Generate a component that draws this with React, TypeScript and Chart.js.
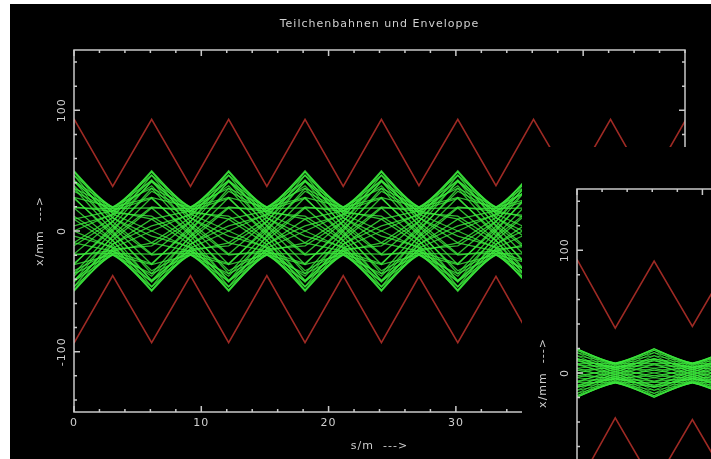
import React, { useEffect, useRef } from 'react';
import { Chart, registerables } from 'chart.js';

Chart.register(...registerables);

// ---------- data ----------
const titleText = 'Teilchenbahnen und Enveloppe';
const xAxisTitle = 's/m  --->';
const yAxisTitle = 'x/mm  --->';

const xMin = 0;
const xMax = 48;
const yMin = -150;
const yMax = 150;

const xTickValues = [0, 2, 4, 6, 8, 10, 12, 14, 16, 18, 20, 22, 24, 26, 28, 30, 32, 34, 36, 38, 40, 42, 44, 46, 48];
const xMajorValues = [0, 10, 20, 30, 40];
const xLabelValues = [0, 10, 20, 30, 40];
const xLabels = ['0', '10', '20', '30', '40'];

const yTickValues = [-140, -120, -100, -80, -60, -40, -20, 0, 20, 40, 60, 80, 100, 120, 140];
const yMajorValues = [-100, 0, 100];
const yLabelValues = [-100, 0, 100];
const yLabels = ['-100', '0', '100'];

// lens positions (kinks of envelope and trajectories), main plot
const lensS = [0, 3.04, 6.1, 9.15, 12.15, 15.15, 18.15, 21.15, 24.15, 27.1, 30.15, 33.15, 36.1, 39.15, 42.15, 45.1, 48.1];
const envUpper = [93, 37, 92.5, 37, 92.5, 37, 92.5, 37, 92.5, 37.5, 92.5, 37.5, 92.5, 37.5, 92.5, 37.5, 93];
const envLower = [-93, -37, -92.5, -37, -92.5, -37, -92.5, -37, -92.5, -37.5, -92.5, -37.5, -92.5, -37.5, -92.5, -37.5, -93];

// particle trajectories x/mm at the lens positions, main plot (outer particles)
const particleX: number[][] = [
  [50, 14.1, 0, -14.1, -50, -14.1, 0, 14.1, 50, 14.1, 0, -14.1, -50, -14.1, 0, 14.1, 50],
  [49, 11.1, -9.8, -16.6, -49, -11.1, 9.8, 16.6, 49, 11.1, -9.8, -16.6, -49, -11.1, 9.8, 16.6, 49],
  [46.2, 7.7, -19.1, -18.5, -46.2, -7.7, 19.1, 18.5, 46.2, 7.7, -19.1, -18.5, -46.2, -7.7, 19.1, 18.5, 46.2],
  [41.6, 3.9, -27.8, -19.6, -41.6, -3.9, 27.8, 19.6, 41.6, 3.9, -27.8, -19.6, -41.6, -3.9, 27.8, 19.6, 41.6],
  [35.4, 0, -35.4, -20, -35.4, 0, 35.4, 20, 35.4, 0, -35.4, -20, -35.4, 0, 35.4, 20, 35.4],
  [27.8, -3.9, -41.6, -19.6, -27.8, 3.9, 41.6, 19.6, 27.8, -3.9, -41.6, -19.6, -27.8, 3.9, 41.6, 19.6, 27.8],
  [19.1, -7.7, -46.2, -18.5, -19.1, 7.7, 46.2, 18.5, 19.1, -7.7, -46.2, -18.5, -19.1, 7.7, 46.2, 18.5, 19.1],
  [9.8, -11.1, -49, -16.6, -9.8, 11.1, 49, 16.6, 9.8, -11.1, -49, -16.6, -9.8, 11.1, 49, 16.6, 9.8],
  [0, -14.1, -50, -14.1, 0, 14.1, 50, 14.1, 0, -14.1, -50, -14.1, 0, 14.1, 50, 14.1, 0],
  [-9.8, -16.6, -49, -11.1, 9.8, 16.6, 49, 11.1, -9.8, -16.6, -49, -11.1, 9.8, 16.6, 49, 11.1, -9.8],
  [-19.1, -18.5, -46.2, -7.7, 19.1, 18.5, 46.2, 7.7, -19.1, -18.5, -46.2, -7.7, 19.1, 18.5, 46.2, 7.7, -19.1],
  [-27.8, -19.6, -41.6, -3.9, 27.8, 19.6, 41.6, 3.9, -27.8, -19.6, -41.6, -3.9, 27.8, 19.6, 41.6, 3.9, -27.8],
  [-35.4, -20, -35.4, 0, 35.4, 20, 35.4, 0, -35.4, -20, -35.4, 0, 35.4, 20, 35.4, 0, -35.4],
  [-41.6, -19.6, -27.8, 3.9, 41.6, 19.6, 27.8, -3.9, -41.6, -19.6, -27.8, 3.9, 41.6, 19.6, 27.8, -3.9, -41.6],
  [-46.2, -18.5, -19.1, 7.7, 46.2, 18.5, 19.1, -7.7, -46.2, -18.5, -19.1, 7.7, 46.2, 18.5, 19.1, -7.7, -46.2],
  [-49, -16.6, -9.8, 11.1, 49, 16.6, 9.8, -11.1, -49, -16.6, -9.8, 11.1, 49, 16.6, 9.8, -11.1, -49],
  [-50, -14.1, 0, 14.1, 50, 14.1, 0, -14.1, -50, -14.1, 0, 14.1, 50, 14.1, 0, -14.1, -50],
  [-49, -11.1, 9.8, 16.6, 49, 11.1, -9.8, -16.6, -49, -11.1, 9.8, 16.6, 49, 11.1, -9.8, -16.6, -49],
  [-46.2, -7.7, 19.1, 18.5, 46.2, 7.7, -19.1, -18.5, -46.2, -7.7, 19.1, 18.5, 46.2, 7.7, -19.1, -18.5, -46.2],
  [-41.6, -3.9, 27.8, 19.6, 41.6, 3.9, -27.8, -19.6, -41.6, -3.9, 27.8, 19.6, 41.6, 3.9, -27.8, -19.6, -41.6],
  [-35.4, 0, 35.4, 20, 35.4, 0, -35.4, -20, -35.4, 0, 35.4, 20, 35.4, 0, -35.4, -20, -35.4],
  [-27.8, 3.9, 41.6, 19.6, 27.8, -3.9, -41.6, -19.6, -27.8, 3.9, 41.6, 19.6, 27.8, -3.9, -41.6, -19.6, -27.8],
  [-19.1, 7.7, 46.2, 18.5, 19.1, -7.7, -46.2, -18.5, -19.1, 7.7, 46.2, 18.5, 19.1, -7.7, -46.2, -18.5, -19.1],
  [-9.8, 11.1, 49, 16.6, 9.8, -11.1, -49, -16.6, -9.8, 11.1, 49, 16.6, 9.8, -11.1, -49, -16.6, -9.8],
  [0, 14.1, 50, 14.1, 0, -14.1, -50, -14.1, 0, 14.1, 50, 14.1, 0, -14.1, -50, -14.1, 0],
  [9.8, 16.6, 49, 11.1, -9.8, -16.6, -49, -11.1, 9.8, 16.6, 49, 11.1, -9.8, -16.6, -49, -11.1, 9.8],
  [19.1, 18.5, 46.2, 7.7, -19.1, -18.5, -46.2, -7.7, 19.1, 18.5, 46.2, 7.7, -19.1, -18.5, -46.2, -7.7, 19.1],
  [27.8, 19.6, 41.6, 3.9, -27.8, -19.6, -41.6, -3.9, 27.8, 19.6, 41.6, 3.9, -27.8, -19.6, -41.6, -3.9, 27.8],
  [35.4, 20, 35.4, 0, -35.4, -20, -35.4, 0, 35.4, 20, 35.4, 0, -35.4, -20, -35.4, 0, 35.4],
  [41.6, 19.6, 27.8, -3.9, -41.6, -19.6, -27.8, 3.9, 41.6, 19.6, 27.8, -3.9, -41.6, -19.6, -27.8, 3.9, 41.6],
  [46.2, 18.5, 19.1, -7.7, -46.2, -18.5, -19.1, 7.7, 46.2, 18.5, 19.1, -7.7, -46.2, -18.5, -19.1, 7.7, 46.2],
  [49, 16.6, 9.8, -11.1, -49, -16.6, -9.8, 11.1, 49, 16.6, 9.8, -11.1, -49, -16.6, -9.8, 11.1, 49],
];

// inner particles, main plot
const innerParticleX: number[][] = [
  [42.3, 10.8, -4.2, -13.1, -42.3, -10.8, 4.2, 13.1, 42.3, 10.8, -4.2, -13.1, -42.3, -10.8, 4.2, 13.1, 42.3],
  [37.5, 4.9, -20, -16.3, -37.5, -4.9, 20, 16.3, 37.5, 4.9, -20, -16.3, -37.5, -4.9, 20, 16.3, 37.5],
  [27, -1.7, -32.9, -16.9, -27, 1.7, 32.9, 16.9, 27, -1.7, -32.9, -16.9, -27, 1.7, 32.9, 16.9, 27],
  [12.3, -8, -40.7, -15, -12.3, 8, 40.7, 15, 12.3, -8, -40.7, -15, -12.3, 8, 40.7, 15, 12.3],
  [-4.2, -13.1, -42.3, -10.8, 4.2, 13.1, 42.3, 10.8, -4.2, -13.1, -42.3, -10.8, 4.2, 13.1, 42.3, 10.8, -4.2],
  [-20, -16.3, -37.5, -4.9, 20, 16.3, 37.5, 4.9, -20, -16.3, -37.5, -4.9, 20, 16.3, 37.5, 4.9, -20],
  [-32.9, -16.9, -27, 1.7, 32.9, 16.9, 27, -1.7, -32.9, -16.9, -27, 1.7, 32.9, 16.9, 27, -1.7, -32.9],
  [-40.7, -15, -12.3, 8, 40.7, 15, 12.3, -8, -40.7, -15, -12.3, 8, 40.7, 15, 12.3, -8, -40.7],
  [-42.3, -10.8, 4.2, 13.1, 42.3, 10.8, -4.2, -13.1, -42.3, -10.8, 4.2, 13.1, 42.3, 10.8, -4.2, -13.1, -42.3],
  [-37.5, -4.9, 20, 16.3, 37.5, 4.9, -20, -16.3, -37.5, -4.9, 20, 16.3, 37.5, 4.9, -20, -16.3, -37.5],
  [-27, 1.7, 32.9, 16.9, 27, -1.7, -32.9, -16.9, -27, 1.7, 32.9, 16.9, 27, -1.7, -32.9, -16.9, -27],
  [-12.3, 8, 40.7, 15, 12.3, -8, -40.7, -15, -12.3, 8, 40.7, 15, 12.3, -8, -40.7, -15, -12.3],
  [4.2, 13.1, 42.3, 10.8, -4.2, -13.1, -42.3, -10.8, 4.2, 13.1, 42.3, 10.8, -4.2, -13.1, -42.3, -10.8, 4.2],
  [20, 16.3, 37.5, 4.9, -20, -16.3, -37.5, -4.9, 20, 16.3, 37.5, 4.9, -20, -16.3, -37.5, -4.9, 20],
  [32.9, 16.9, 27, -1.7, -32.9, -16.9, -27, 1.7, 32.9, 16.9, 27, -1.7, -32.9, -16.9, -27, 1.7, 32.9],
  [40.7, 15, 12.3, -8, -40.7, -15, -12.3, 8, 40.7, 15, 12.3, -8, -40.7, -15, -12.3, 8, 40.7],
];

// inset window (second run, smaller beam)
const insetLensS = [0, 3.05, 6.15, 9.2, 12.25];
const insetEnvUpper = [92.6, 36.6, 91.2, 38, 91.5];
const insetEnvLower = [-92.6, -36.6, -91.2, -38, -91.5];
const insetParticleX: number[][] = [
  [20, 5.9, 0, -5.9, -20],
  [19.6, 4.6, -3.9, -6.9, -19.6],
  [18.5, 3.2, -7.7, -7.7, -18.5],
  [16.6, 1.6, -11.1, -8.1, -16.6],
  [14.1, 0, -14.1, -8.3, -14.1],
  [11.1, -1.6, -16.6, -8.1, -11.1],
  [7.7, -3.2, -18.5, -7.7, -7.7],
  [3.9, -4.6, -19.6, -6.9, -3.9],
  [0, -5.9, -20, -5.9, 0],
  [-3.9, -6.9, -19.6, -4.6, 3.9],
  [-7.7, -7.7, -18.5, -3.2, 7.7],
  [-11.1, -8.1, -16.6, -1.6, 11.1],
  [-14.1, -8.3, -14.1, 0, 14.1],
  [-16.6, -8.1, -11.1, 1.6, 16.6],
  [-18.5, -7.7, -7.7, 3.2, 18.5],
  [-19.6, -6.9, -3.9, 4.6, 19.6],
  [-20, -5.9, 0, 5.9, 20],
  [-19.6, -4.6, 3.9, 6.9, 19.6],
  [-18.5, -3.2, 7.7, 7.7, 18.5],
  [-16.6, -1.6, 11.1, 8.1, 16.6],
  [-14.1, 0, 14.1, 8.3, 14.1],
  [-11.1, 1.6, 16.6, 8.1, 11.1],
  [-7.7, 3.2, 18.5, 7.7, 7.7],
  [-3.9, 4.6, 19.6, 6.9, 3.9],
  [0, 5.9, 20, 5.9, 0],
  [3.9, 6.9, 19.6, 4.6, -3.9],
  [7.7, 7.7, 18.5, 3.2, -7.7],
  [11.1, 8.1, 16.6, 1.6, -11.1],
  [14.1, 8.3, 14.1, 0, -14.1],
  [16.6, 8.1, 11.1, -1.6, -16.6],
  [18.5, 7.7, 7.7, -3.2, -18.5],
  [19.6, 6.9, 3.9, -4.6, -19.6],
  [11.8, 2.8, -2.3, -4.2, -11.8],
  [10, 1, -6.7, -4.9, -10],
  [6.7, -1, -10, -4.9, -6.7],
  [2.3, -2.8, -11.8, -4.2, -2.3],
  [-2.3, -4.2, -11.8, -2.8, 2.3],
  [-6.7, -4.9, -10, -1, 6.7],
  [-10, -4.9, -6.7, 1, 10],
  [-11.8, -4.2, -2.3, 2.8, 11.8],
  [-11.8, -2.8, 2.3, 4.2, 11.8],
  [-10, -1, 6.7, 4.9, 10],
  [-6.7, 1, 10, 4.9, 6.7],
  [-2.3, 2.8, 11.8, 4.2, 2.3],
  [2.3, 4.2, 11.8, 2.8, -2.3],
  [6.7, 4.9, 10, 1, -6.7],
  [10, 4.9, 6.7, -1, -10],
  [11.8, 4.2, 2.3, -2.8, -11.8],
];

// ---------- styling ----------
const RED = 'rgb(158,42,36)';
const GREEN = 'rgba(60,235,60,0.8)';
const FRAME = '#c9c9c9';
const TEXT = '#cfcfcf';
const FONT = '11px "DejaVu Sans", sans-serif';

function lineDataset(xs: number[], ys: number[], color: string, width: number) {
  return {
    data: xs.map((x, i) => ({ x, y: ys[i] })),
    borderColor: color,
    borderWidth: width,
    pointRadius: 0,
    tension: 0,
    fill: false,
    borderJoinStyle: 'miter' as const,
  };
}

const decorPlugin = {
  id: 'decor',
  beforeDraw(chart: any) {
    const c = chart.ctx;
    c.save();
    c.fillStyle = '#000';
    c.fillRect(0, 0, chart.width, chart.height);
    c.restore();
  },
  afterDatasetsDraw(chart: any) {
    const c: CanvasRenderingContext2D = chart.ctx;
    const a = chart.chartArea;
    const xs = chart.scales.x;
    const ys = chart.scales.y;
    c.save();
    c.strokeStyle = FRAME;
    c.lineWidth = 1.5;
    c.strokeRect(a.left, a.top, a.right - a.left, a.bottom - a.top);
    c.beginPath();
    for (const v of xTickValues) {
      const px = xs.getPixelForValue(v);
      const len = xMajorValues.includes(v) ? 6 : 3;
      c.moveTo(px, a.bottom);
      c.lineTo(px, a.bottom - len);
      c.moveTo(px, a.top);
      c.lineTo(px, a.top + len);
    }
    for (const v of yTickValues) {
      const py = ys.getPixelForValue(v);
      const len = yMajorValues.includes(v) ? 6 : 3;
      c.moveTo(a.left, py);
      c.lineTo(a.left + len, py);
      c.moveTo(a.right, py);
      c.lineTo(a.right - len, py);
    }
    c.stroke();

    c.fillStyle = TEXT;
    c.font = FONT;
    (c as any).letterSpacing = '1px';
    c.textAlign = 'center';
    c.textBaseline = 'middle';
    xLabelValues.forEach((v, i) => {
      c.fillText(xLabels[i], xs.getPixelForValue(v), a.bottom + 11);
    });
    yLabelValues.forEach((v, i) => {
      c.save();
      c.translate(a.left - 12, ys.getPixelForValue(v));
      c.rotate(-Math.PI / 2);
      c.fillText(yLabels[i], 0, 0);
      c.restore();
    });
    c.fillText(xAxisTitle, (a.left + a.right) / 2, a.bottom + 34);
    c.save();
    c.translate(a.left - 34, (a.top + a.bottom) / 2);
    c.rotate(-Math.PI / 2);
    c.fillText(yAxisTitle, 0, 0);
    c.restore();
    c.fillText(titleText, (a.left + a.right) / 2, a.top - 26);
    c.restore();
  },
};

function makeConfig(
  sVals: number[],
  upper: number[],
  lower: number[],
  parts: number[][],
  greenWidth: number,
  padding: { left: number; top: number; right: number; bottom: number }
): any {
  const datasets = [
    ...parts.map((p) => lineDataset(sVals, p, GREEN, greenWidth)),
    lineDataset(sVals, upper, RED, 1.6),
    lineDataset(sVals, lower, RED, 1.6),
  ];
  return {
    type: 'line',
    data: { datasets },
    options: {
      animation: false,
      responsive: false,
      devicePixelRatio: 1,
      events: [],
      layout: { padding },
      plugins: { legend: { display: false }, tooltip: { enabled: false }, title: { display: false } },
      scales: {
        x: { type: 'linear', min: xMin, max: xMax, display: false },
        y: { type: 'linear', min: yMin, max: yMax, display: false },
      },
    },
    plugins: [decorPlugin],
  };
}

function ChartCanvas({ width, height, config }: { width: number; height: number; config: () => any }) {
  const ref = useRef<HTMLCanvasElement>(null);
  useEffect(() => {
    const chart = new Chart(ref.current as HTMLCanvasElement, config());
    return () => chart.destroy();
  }, []);
  return <canvas ref={ref} width={width} height={height} style={{ display: 'block', width, height }} />;
}

export default function App() {
  useEffect(() => {
    document.body.style.margin = '0';
    document.body.style.background = '#fff';
  }, []);
  return (
    <div style={{ position: 'relative', width: 711, height: 459, overflow: 'hidden', background: '#fff' }}>
      <div style={{ position: 'absolute', left: 10, top: 4 }}>
        <ChartCanvas
          width={701}
          height={455}
          config={() =>
            makeConfig(lensS, envUpper, envLower, [...particleX, ...innerParticleX], 1.25, {
              left: 64,
              top: 46,
              right: 26,
              bottom: 47,
            })
          }
        />
      </div>
      <div
        style={{
          position: 'absolute',
          left: 522,
          top: 147,
          width: 189,
          height: 312,
          overflow: 'hidden',
          background: '#000',
        }}
      >
        <ChartCanvas
          width={680}
          height={460}
          config={() =>
            makeConfig(insetLensS, insetEnvUpper, insetEnvLower, insetParticleX, 1, {
              left: 55,
              top: 42,
              right: 23,
              bottom: 50,
            })
          }
        />
      </div>
    </div>
  );
}
